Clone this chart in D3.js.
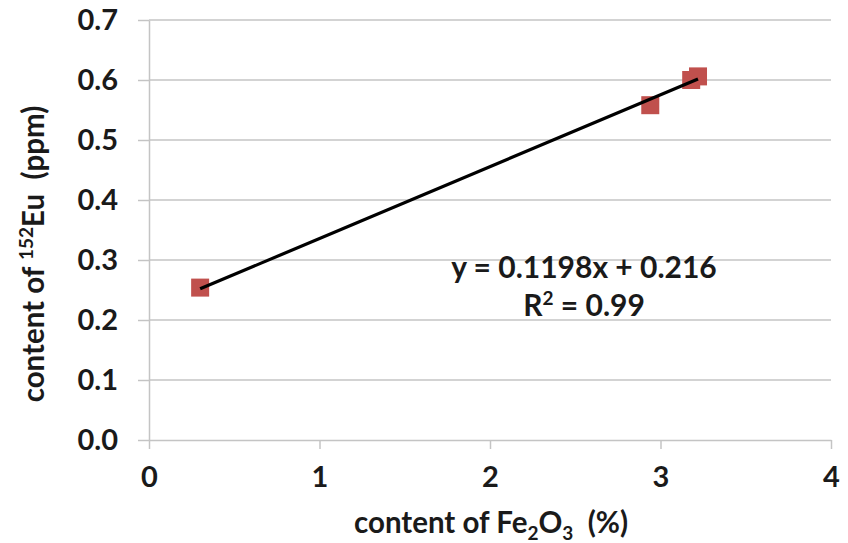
<!DOCTYPE html>
<html>
<head>
<meta charset="utf-8">
<script src="https://cdn.jsdelivr.net/npm/d3@7"></script>
<style>
  html, body { margin: 0; padding: 0; background: #fff; }
  text { font-family: Lato, "Open Sans", sans-serif; font-weight: bold; fill: #1a1a1a; }
  .grid line { stroke: #c4c4c4; stroke-width: 1.5; }
  .axis path, .axis line { stroke: #c4c4c4; stroke-width: 1.5; }
</style>
</head>
<body>
<svg id="chart"></svg>
<script>
'use strict';

// data
var fe2o3 = [0.30, 2.94, 3.18, 3.22];
var eu152 = [0.254, 0.558, 0.600, 0.606];
var trend_slope = 0.1198;
var trend_intercept = 0.216;
var equation_lines = ['y = 0.1198x + 0.216', 'R', '2', ' = 0.99'];
var x_ticks = [0, 1, 2, 3, 4];
var y_ticks = [0, 0.1, 0.2, 0.3, 0.4, 0.5, 0.6, 0.7];

var width = 848, height = 543;
var svg = d3.select('#chart').attr('width', width).attr('height', height);

var x = d3.scaleLinear().domain([0, 4]).range([149, 831]);
var y = d3.scaleLinear().domain([0, 0.7]).range([440, 20]);

// horizontal gridlines
svg.append('g').attr('class', 'grid')
  .selectAll('line').data(y_ticks.slice(1)).enter().append('line')
  .attr('x1', x(0)).attr('x2', x(4))
  .attr('y1', function (d) { return y(d); })
  .attr('y2', function (d) { return y(d); });

var y_axis = svg.append('g').attr('class', 'axis')
  .attr('transform', 'translate(' + x(0) + ',0)')
  .call(d3.axisLeft(y).tickValues(y_ticks).tickFormat(d3.format('.1f')).tickSize(11).tickSizeOuter(0).tickPadding(20));
y_axis.selectAll('text').style('font-size', '29px');

var x_axis = svg.append('g').attr('class', 'axis')
  .attr('transform', 'translate(0,' + y(0) + ')')
  .call(d3.axisBottom(x).tickValues(x_ticks).tickFormat(d3.format('d')).tickSize(9).tickSizeOuter(0).tickPadding(17));
x_axis.selectAll('text').style('font-size', '29px');

// markers
var marker_size = 18;
svg.append('g').selectAll('rect').data(fe2o3).enter().append('rect')
  .attr('x', function (d) { return x(d) - marker_size / 2; })
  .attr('y', function (d, i) { return y(eu152[i]) - marker_size / 2; })
  .attr('width', marker_size).attr('height', marker_size)
  .attr('fill', '#c0504d');

// linear trendline
var x_min = d3.min(fe2o3), x_max = d3.max(fe2o3);
svg.append('line')
  .attr('x1', x(x_min)).attr('y1', y(trend_slope * x_min + trend_intercept))
  .attr('x2', x(x_max)).attr('y2', y(trend_slope * x_max + trend_intercept))
  .attr('stroke', '#000').attr('stroke-width', 3.2);

// equation label
svg.append('text').attr('x', 584).attr('y', 278).attr('text-anchor', 'middle')
  .style('font-size', '30px').text(equation_lines[0]);
var r2 = svg.append('text').attr('x', 584).attr('y', 316).attr('text-anchor', 'middle')
  .style('font-size', '30px');
r2.append('tspan').text(equation_lines[1]);
r2.append('tspan').attr('dy', -11).style('font-size', '19px').text(equation_lines[2]);
r2.append('tspan').attr('dy', 11).text(equation_lines[3]);

// axis titles
var x_title = svg.append('text').attr('x', 491).attr('y', 533).attr('text-anchor', 'middle')
  .style('font-size', '29.5px');
x_title.append('tspan').text('content of Fe');
x_title.append('tspan').attr('dy', 7).style('font-size', '19px').text('2');
x_title.append('tspan').attr('dy', -7).text('O');
x_title.append('tspan').attr('dy', 7).style('font-size', '19px').text('3');
x_title.append('tspan').attr('dy', -7).text('\u00a0\u00a0(%)');

var y_title = svg.append('text').attr('transform', 'translate(44,254) rotate(-90)')
  .attr('text-anchor', 'middle').style('font-size', '29.5px');
y_title.append('tspan').text('content of ');
y_title.append('tspan').attr('dy', -11).style('font-size', '19px').text('152');
y_title.append('tspan').attr('dy', 11).text('Eu\u00a0\u00a0(ppm)');
</script>
</body>
</html>
